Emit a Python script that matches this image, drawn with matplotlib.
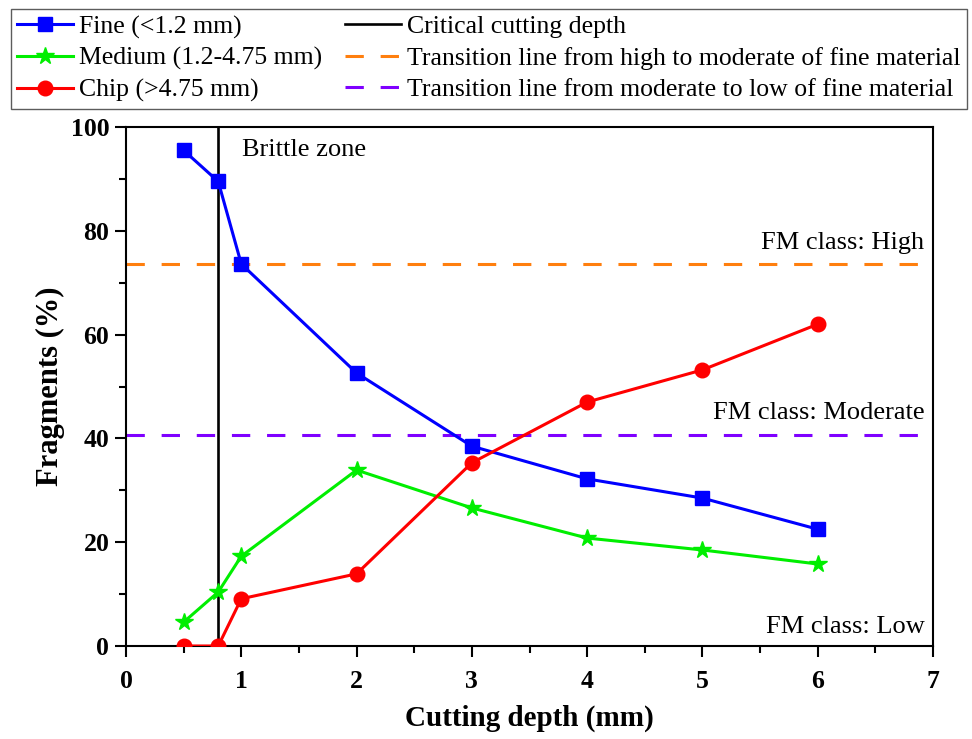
import matplotlib
matplotlib.use("Agg")
import matplotlib.pyplot as plt
from matplotlib.ticker import MultipleLocator

plt.rcParams['font.family'] = ['Liberation Serif', 'DejaVu Serif']
plt.rcParams['mathtext.fontset'] = 'stix'

depth = [0.5, 0.8, 1, 2, 3, 4, 5, 6]
fine = [95.5, 89.5, 73.6, 52.6, 38.5, 32.2, 28.5, 22.5]
medium = [4.6, 10.4, 17.3, 33.9, 26.6, 20.8, 18.5, 15.8]
chip = [0.0, 0.0, 9.1, 13.9, 35.3, 47.0, 53.2, 62.0]
critical_depth = 0.8
high_moderate = 73.6
moderate_low = 40.7

labels = ["Fine (<1.2 mm)", "Medium (1.2-4.75 mm)", "Chip (>4.75 mm)",
          "Critical cutting depth",
          "Transition line from high to moderate of fine material",
          "Transition line from moderate to low of fine material"]

fig = plt.figure(figsize=(9.72, 7.39), dpi=100)
ax = fig.add_axes([126/972, 1-646/739, (933-126)/972, (646-127)/739])

dash = (6, 5.5)
l4 = ax.axvline(critical_depth, color='black', lw=1.9, zorder=2)
l5, = ax.plot([0, 7], [high_moderate]*2, color='#ff7f0e', lw=2.2, dashes=dash, zorder=1)
l6, = ax.plot([0, 7], [moderate_low]*2, color='#7f00ff', lw=2.2, dashes=dash, zorder=1)

l1, = ax.plot(depth, fine, color='#0000ff', lw=2.2, marker='s', ms=9.5, zorder=4)
l2, = ax.plot(depth, medium, color='#00ee00', lw=2.2, marker='*', ms=13, zorder=4)
l3, = ax.plot(depth, chip, color='#ff0000', lw=2.2, marker='o', ms=10.5, zorder=4)

ax.set_xlim(0, 7)
ax.set_ylim(0, 100)
ax.xaxis.set_major_locator(MultipleLocator(1))
ax.xaxis.set_minor_locator(MultipleLocator(0.5))
ax.yaxis.set_major_locator(MultipleLocator(20))
ax.yaxis.set_minor_locator(MultipleLocator(10))
ax.tick_params(which='both', direction='out', top=False, right=False, width=1.5)
ax.tick_params(which='major', length=8, labelsize=18.5)
ax.tick_params(axis='x', which='major', pad=9)
ax.tick_params(axis='y', which='major', pad=4)
ax.tick_params(which='minor', length=5)
for lab in ax.get_xticklabels() + ax.get_yticklabels():
    lab.set_fontweight('bold')
for s in ax.spines.values():
    s.set_linewidth(1.5)

ax.set_xlabel("Cutting depth (mm)", fontsize=21, fontweight='bold')
ax.set_ylabel("Fragments (%)", fontsize=22, fontweight='bold')
ax.xaxis.set_label_coords(0.5, -(718-646)/519, transform=ax.transAxes)
ax.xaxis.label.set_va('center')
ax.yaxis.set_label_coords(-(126-50)/807, 0.5, transform=ax.transAxes)
ax.yaxis.label.set_va('center')

ax.text(1.01, 95.5, "Brittle zone", fontsize=19, ha='left', va='center')
ax.text(6.92, 77.6, "FM class: High", fontsize=19, ha='right', va='center')
ax.text(6.93, 44.9, "FM class: Moderate", fontsize=19, ha='right', va='center')
ax.text(6.93, 3.6, "FM class: Low", fontsize=19, ha='right', va='center')

leg = fig.legend([l1, l2, l3, l4, l5, l6], labels, ncol=2, loc='upper left',
                 bbox_to_anchor=(11/972, 1-107/739, 956/972, 98/739),
                 bbox_transform=fig.transFigure, mode='expand',
                 fontsize=18.5, frameon=True, fancybox=False, edgecolor='#333333',
                 handlelength=2.15, handletextpad=0.25, labelspacing=0.32,
                 borderaxespad=0, borderpad=0.25, columnspacing=0.3)
leg.get_frame().set_linewidth(1.0)

fig.savefig("out.png", dpi=100)
